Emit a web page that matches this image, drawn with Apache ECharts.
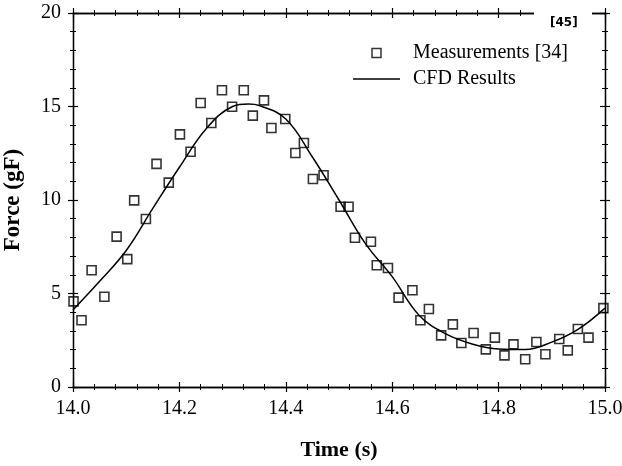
<!DOCTYPE html>
<html>
<head>
<meta charset="utf-8">
<script src="https://cdn.jsdelivr.net/npm/echarts@6/dist/echarts.min.js"></script>
<style>
  html, body { margin: 0; padding: 0; background: #fff; }
  #chart { width: 622px; height: 466px; }
</style>
</head>
<body>
<div id="chart"></div>
<script>
const measTime = [14.001, 14.016, 14.035, 14.059, 14.082, 14.102, 14.115, 14.137, 14.157, 14.180,
  14.201, 14.221, 14.240, 14.260, 14.280, 14.299, 14.321, 14.338, 14.359, 14.373,
  14.399, 14.418, 14.434, 14.451, 14.471, 14.503, 14.518, 14.530, 14.560, 14.571,
  14.592, 14.612, 14.638, 14.653, 14.669, 14.692, 14.714, 14.730, 14.753, 14.776,
  14.793, 14.811, 14.828, 14.850, 14.871, 14.888, 14.914, 14.930, 14.949, 14.969, 14.997];
const measForce = [4.58, 3.57, 6.24, 4.83, 8.04, 6.84, 9.98, 8.98, 11.93, 10.93,
  13.51, 12.58, 15.19, 14.12, 15.87, 14.99, 15.87, 14.51, 15.33, 13.85,
  14.33, 12.51, 13.05, 11.12, 11.32, 9.64, 9.64, 7.98, 7.77, 6.51,
  6.36, 4.78, 5.17, 3.57, 4.17, 2.76, 3.35, 2.35, 2.89, 2.01,
  2.64, 1.69, 2.28, 1.48, 2.41, 1.75, 2.57, 1.96, 3.10, 2.64, 4.22];

// CFD curve
const cfdTime = [14.00, 14.05, 14.10, 14.15, 14.20, 14.25, 14.30, 14.33, 14.35, 14.40,
  14.45, 14.50, 14.55, 14.60, 14.65, 14.70, 14.75, 14.80, 14.85, 14.90, 14.95, 15.00];
const cfdForce = [4.12, 5.65, 7.3, 9.55, 11.75, 13.8, 15.0, 15.13, 15.05, 14.33,
  12.3, 10.0, 7.65, 5.9, 3.85, 2.85, 2.3, 2.03, 2.0, 2.4, 3.1, 4.22];

const xTicks = { min: 14, max: 15, interval: 0.2 };
const yTicks = { min: 0, max: 20, interval: 5 };

const chart = echarts.init(document.getElementById("chart"));
const serif = "Liberation Serif";

// ticks cross the frame, so each side gets one axis ticking out and one ticking in
function makeAxis(base, position, inside, showLabel) {
  return Object.assign({}, base, {
    type: "value",
    position: position,
    axisLine: { show: true, onZero: false, lineStyle: { color: "#000", width: 1.3 } },
    axisTick: { show: true, inside: inside, length: 5, lineStyle: { color: "#000", width: 1.2 } },
    minorTick: { show: true, splitNumber: 5, length: 3, lineStyle: { color: "#000", width: 1 } },
    splitLine: { show: false },
    axisLabel: { show: showLabel, color: "#000", fontFamily: serif, fontSize: 20, margin: 12,
      formatter: (v) => position === "bottom" ? v.toFixed(1) : String(v) },
  });
}

const option = {
  animation: false,
  grid: { left: 73, right: 17, top: 13, bottom: 79, containLabel: false, outerBoundsMode: "none" },
  xAxis: [
    makeAxis(xTicks, "bottom", false, true),
    makeAxis(xTicks, "bottom", true, false),
    makeAxis(xTicks, "top", false, false),
    makeAxis(xTicks, "top", true, false),
  ],
  yAxis: [
    makeAxis(yTicks, "left", false, true),
    makeAxis(yTicks, "left", true, false),
    makeAxis(yTicks, "right", false, false),
    makeAxis(yTicks, "right", true, false),
  ],
  legend: {
    orient: "vertical",
    left: 353,
    top: 43,
    padding: 0,
    itemWidth: 47,
    itemHeight: 9,
    itemGap: 6,
    textStyle: { fontFamily: serif, fontSize: 20, color: "#000", padding: [0, 0, 0, 8] },
    data: [
      { name: "Measurements [34]", icon: "path://M0,0H10V10H0Z",
        itemStyle: { color: "transparent", borderColor: "#000", borderWidth: 1.5 } },
      { name: "CFD Results", icon: "path://M0,0H47V1.5H0Z",
        itemStyle: { color: "#000", borderWidth: 0 } },
    ],
  },
  series: [
    {
      name: "Measurements [34]",
      type: "scatter",
      symbol: "rect",
      symbolSize: 9,
      itemStyle: { color: "transparent", borderColor: "#000", borderWidth: 1.6 },
      data: measTime.map((t, i) => [t, measForce[i]]),
      z: 3,
    },
    {
      name: "CFD Results",
      type: "line",
      smooth: 0.4,
      showSymbol: false,
      symbol: "none",
      itemStyle: { color: "#000" },
      lineStyle: { color: "#000", width: 1.5 },
      data: cfdTime.map((t, i) => [t, cfdForce[i]]),
      z: 2,
    },
  ],
  graphic: [
    { type: "rect", z: 100, shape: { x: 534, y: 4, width: 58, height: 24 }, style: { fill: "#fff" } },
    { type: "text", z: 101, left: 550, top: 17,
      style: { text: "[45]", font: "bold 12px 'DejaVu Sans'", fill: "#000" } },
  ],
};

option.xAxis[0].name = "Time (s)";
option.xAxis[0].nameLocation = "middle";
option.xAxis[0].nameGap = 52;
option.xAxis[0].nameTextStyle = { fontFamily: serif, fontWeight: "bold", fontSize: 22, color: "#000" };
option.yAxis[0].name = "Force (gF)";
option.yAxis[0].nameLocation = "middle";
option.yAxis[0].nameGap = 48;
option.yAxis[0].nameTextStyle = { fontFamily: serif, fontWeight: "bold", fontSize: 23, color: "#000" };

chart.setOption(option);
</script>
</body>
</html>
